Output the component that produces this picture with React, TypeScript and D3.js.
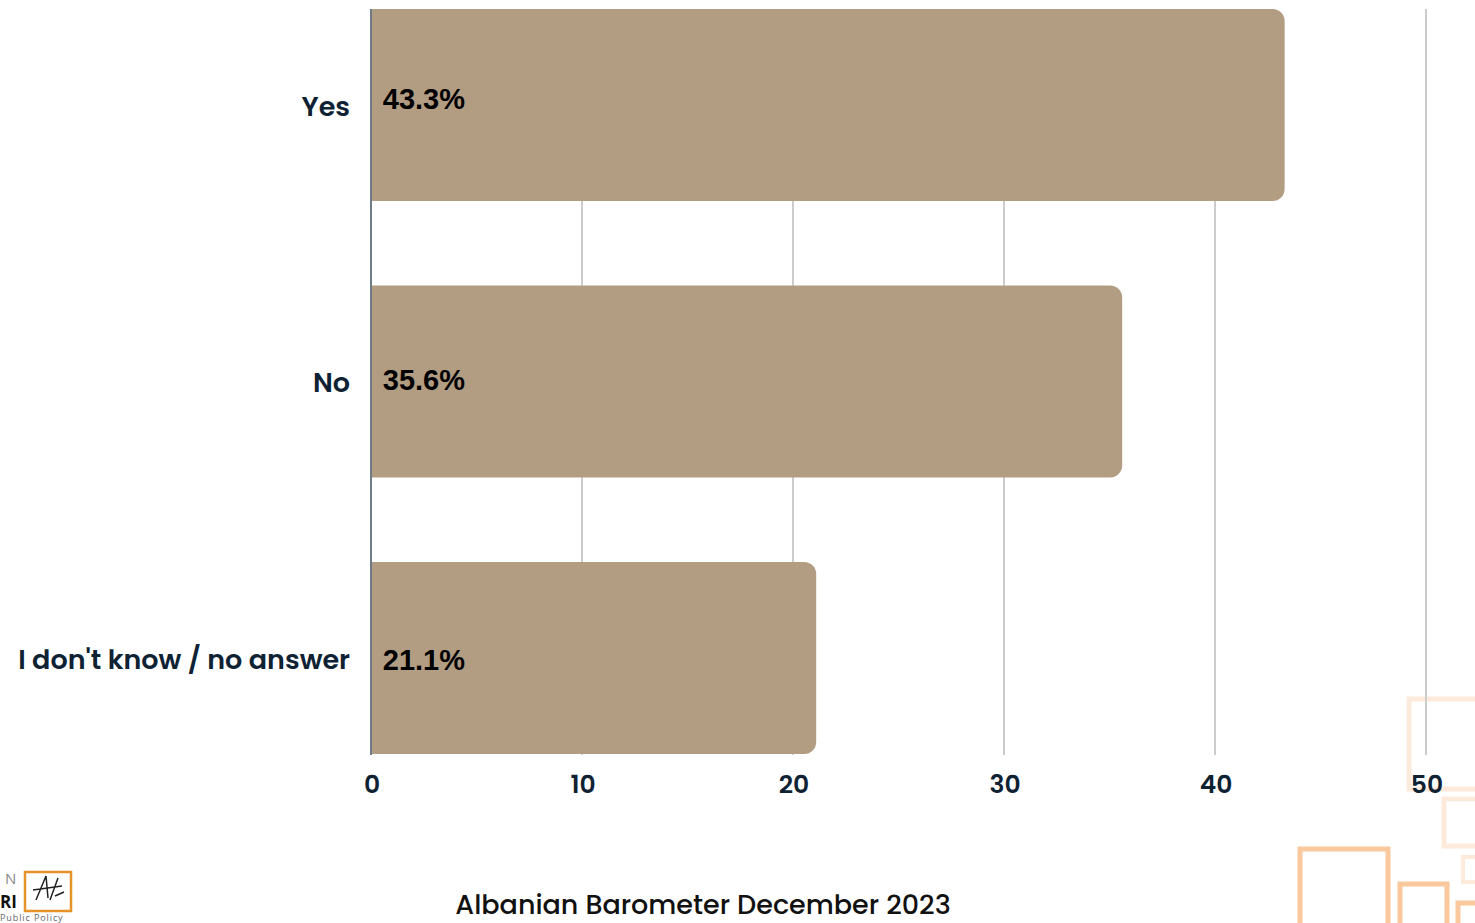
import React from "react";
import * as d3 from "d3";

const categories = ["Yes", "No", "I don't know / no answer"];
const values = [43.3, 35.6, 21.1];
const ticks = [0, 10, 20, 30, 40, 50];
const title = "Albanian Barometer December 2023";

const W = 1475;
const H = 923;

function roundedRightBar(x0: number, x1: number, y: number, h: number, r: number) {
  const p = d3.path();
  p.moveTo(x0, y);
  p.lineTo(x1 - r, y);
  p.arcTo(x1, y, x1, y + r, r);
  p.lineTo(x1, y + h - r);
  p.arcTo(x1, y + h, x1 - r, y + h, r);
  p.lineTo(x0, y + h);
  p.closePath();
  return p.toString();
}

export default function App() {
  const x = d3.scaleLinear().domain([0, 50]).range([371, 1426]);
  const y = d3.scaleBand().domain(categories).range([9, 754]).paddingInner(0.306).paddingOuter(0);
  const labelFont = "Poppins, 'Open Sans', sans-serif";
  const navy = "#0e2233";

  return (
    <div style={{ position: "absolute", left: 0, top: 0 }}>
      <svg width={W} height={H} style={{ display: "block" }}>
        <rect width={W} height={H} fill="#fff" />
        {/* decorative squares */}
        <g fill="none">
          <rect x={1409} y={699} width={90} height={90} stroke="#fdeadb" strokeWidth={5} />
          <rect x={1444} y={799} width={60} height={47} stroke="#fdeadb" strokeWidth={5} />
          <rect x={1463} y={857} width={30} height={25} stroke="#fdeadb" strokeWidth={4} />
          <rect x={1300} y={849} width={88} height={90} stroke="#f9c89c" strokeWidth={5} />
          <rect x={1400} y={884} width={47} height={60} stroke="#f9c89c" strokeWidth={5} />
          <rect x={1458} y={903} width={40} height={40} stroke="#f9c89c" strokeWidth={5} />
        </g>
        {/* gridlines */}
        {ticks.filter((t) => t > 0).map((t) => (
          <line key={t} x1={x(t)} x2={x(t)} y1={9} y2={755} stroke="#cccccc" strokeWidth={2} />
        ))}
        {/* bars */}
        {categories.map((c, i) => (
          <path
            key={c}
            d={roundedRightBar(x(0), x(values[i]), y(c)!, y.bandwidth(), 12)}
            fill="#b29d83"
          />
        ))}
        {/* axis line */}
        <line x1={x(0)} x2={x(0)} y1={9} y2={755} stroke="#6e7c88" strokeWidth={2} />
        {/* value labels */}
        {categories.map((c, i) => (
          <text
            key={c}
            x={465}
            y={y(c)! + (i === 2 ? 98 : i === 1 ? 94 : 90)}
            textAnchor="end"
            dominantBaseline="central"
            fontFamily="'Liberation Sans', Arial, sans-serif"
            fontWeight={700}
            fontSize={29}
            fill="#000"
          >
            {values[i].toFixed(1)}%
          </text>
        ))}
        {/* category labels */}
        {categories.map((c) => (
          <text
            key={c}
            x={350}
            y={y(c)! + 97}
            textAnchor="end"
            dominantBaseline="central"
            fontFamily={labelFont}
            fontWeight={600}
            fontSize={27}
            fill={navy}
          >
            {c}
          </text>
        ))}
        {/* tick labels */}
        {ticks.map((t) => (
          <text
            key={t}
            x={x(t) + 1}
            y={784}
            textAnchor="middle"
            dominantBaseline="central"
            fontFamily={labelFont}
            fontWeight={600}
            fontSize={25}
            fill={navy}
          >
            {t}
          </text>
        ))}
        {/* title */}
        <text
          x={703}
          y={904}
          textAnchor="middle"
          dominantBaseline="central"
          fontFamily={labelFont}
          fontWeight={500}
          fontSize={27}
          fill="#111"
        >
          {title}
        </text>
        {/* logo */}
        <g>
          <text x={5} y={884} fontFamily="'Open Sans', sans-serif" fontSize={15} fill="#888">N</text>
          <text x={0} y={908} fontFamily="'Open Sans', sans-serif" fontWeight={700} fontSize={17} fill="#111">RI</text>
          <rect x={25} y={872} width={46} height={39} fill="none" stroke="#e8922a" strokeWidth={2.5} />
          <path d="M36,900 L46,876 L48,898 M33,890 L62,886 M50,900 L58,878 M55,896 L64,892" stroke="#222" strokeWidth={1.5} fill="none" />
          <text x={0} y={921} fontFamily="'Open Sans', sans-serif" fontSize={9} fill="#666" letterSpacing={0.9}>Public Policy</text>
        </g>
      </svg>
    </div>
  );
}
